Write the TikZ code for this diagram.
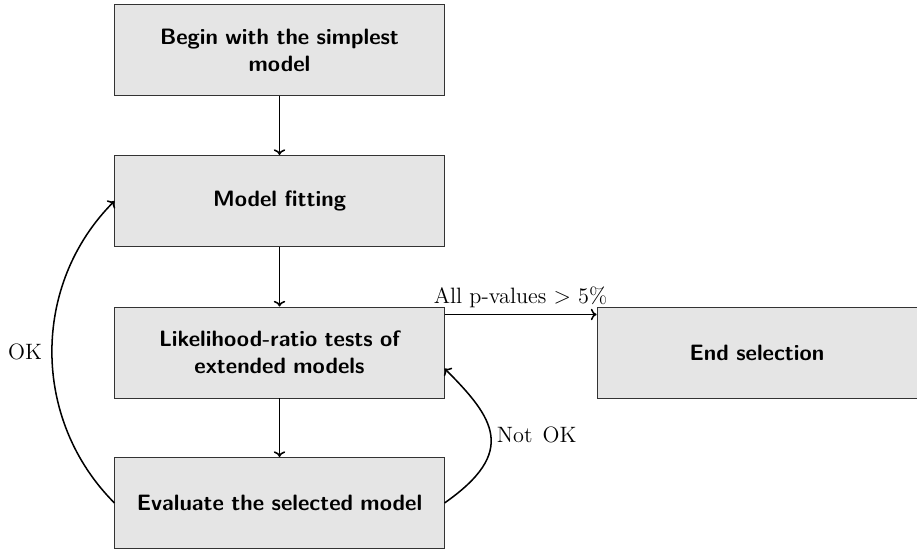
\documentclass[tikz,border=0pt]{standalone}
\usetikzlibrary{arrows.meta}
\begin{document}
\begin{tikzpicture}[x=0.5263pt,y=-0.5263pt,
  box/.style={draw=black!80, line width=0.5pt, fill=black!10, minimum width=173.2pt, minimum height=47.9pt, inner sep=0pt, align=center, font=\sffamily\bfseries\fontsize{11.7}{14.2}\selectfont, text width=165pt},
  endbox/.style={box, minimum width=168.4pt},
  conn/.style={-{To[length=3pt,width=6pt]}, line width=0.8pt},
  lab/.style={font=\rmfamily\fontsize{11.7}{14.2}\selectfont}]
\useasboundingbox (0,0) rectangle (917,549);
\node[box] (b1) at (279.5,50) {Begin with the simplest\\model};
\node[box] (b2) at (279.5,201) {Model fitting};
\node[box] (b3) at (279.5,352.5) {Likelihood-ratio tests of\\extended models};
\node[box] (b4) at (279.5,503) {Evaluate the selected model};
\node[endbox] (e) at (757,352.5) {End selection};
\coordinate (s1) at ([yshift=-4.2pt]b3.north east);
\coordinate (s2) at ([yshift=-4.2pt]e.north west);
\coordinate (s3) at ([yshift=-8.4pt]b3.east);
\draw[conn] (b1) -- (b2);
\draw[conn] (b2) -- (b3);
\draw[conn] (b3) -- (b4);
\draw[conn] (s1) -- node[lab, above, pos=0.5, inner sep=3pt] {All p-values $>$ 5\%} (s2);
\draw[conn] (b4.west) to[out=135,in=225] node[lab, left=1.5pt] {OK} (b2.west);
\draw[conn] (b4.east) to[out=35,in=-45,out looseness=1.7,in looseness=1.35] node[lab, right=-0.5pt] {Not\hspace{1.5pt} OK} (s3);
\end{tikzpicture}
\end{document}
